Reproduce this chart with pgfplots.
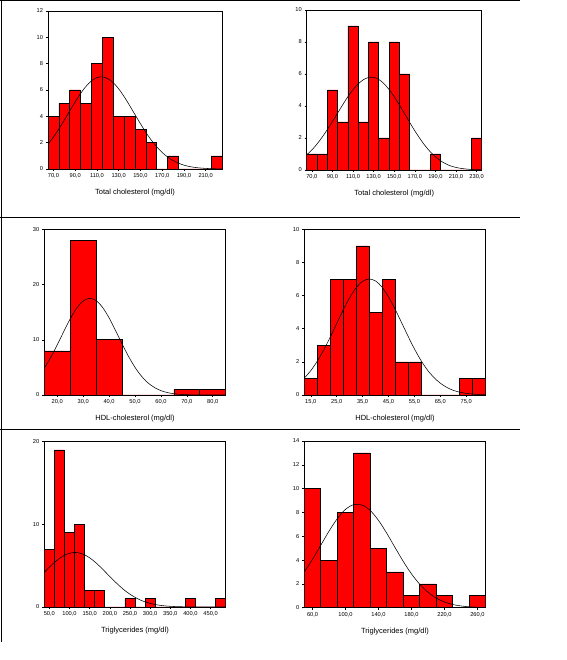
\documentclass[border=0pt]{standalone}
\usepackage{pgfplots}
\pgfplotsset{compat=1.18}
\usepackage{fontspec}
\setmainfont{Liberation Sans}
\pgfplotsset{hist/.style={
  scale only axis, anchor=south west, ymin=0, enlargelimits=false,
  tick align=outside, xtick pos=left, ytick pos=left,
  major tick length=2pt, tick style={black,line width=0.5pt},
  axis line style={line width=0.7pt},
  ticklabel style={font=\fontsize{5.7}{6.5}\selectfont},
  xticklabel style={yshift=0.8pt},
  yticklabel style={xshift=0.5pt},
  /pgf/number format/assume math mode=true,
  xlabel style={font=\fontsize{7.5}{9}\selectfont, at={(axis description cs:0.5,0)}, anchor=center, yshift=-24pt},
  clip=true},
  bars/.style={ybar interval, fill=red, draw=black, line width=0.6pt},
  curve/.style={black, line width=0.55pt, smooth, no markers}}
\begin{document}
\begin{tikzpicture}[x=1pt,y=1pt]
\useasboundingbox (0,0) rectangle (566,660);
\draw[line width=1pt] (0,659.3) -- (520,659.3);
\draw[line width=1pt] (0,442) -- (520,442);
\draw[line width=1pt] (0,230) -- (520,230);
\draw[line width=1pt] (1,660) -- (1,18);
% Panel 1
\begin{axis}[hist, at={(48pt,491pt)}, width=174pt, height=158pt,
  xmin=65, xmax=225, ymax=12, ytick={0,2,...,12},
  xtick={70,90,...,210}, xticklabels={{70,0},{90,0},{110,0},{130,0},{150,0},{170,0},{190,0},{210,0}},
  xlabel={Total cholesterol (mg/dl)}]
\addplot[bars] coordinates {(65,4) (75,5) (85,6) (95,5) (105,8) (115,10) (125,4) (135,4) (145,3) (155,2) (165,0) (175,1) (185,0) (195,0) (205,0) (215,1) (225,1)};
\addplot[curve] coordinates {(65,1.88) (70,2.42) (75,3.04) (80,3.71) (85,4.41) (90,5.10) (95,5.74) (100,6.28) (105,6.70) (110,6.94) (115,7.00) (120,6.86) (125,6.55) (130,6.09) (135,5.50) (140,4.83) (145,4.13) (150,3.44) (155,2.78) (160,2.19) (165,1.68) (170,1.25) (175,0.91) (180,0.64) (185,0.44) (190,0.29) (195,0.19) (200,0.12) (205,0.075) (210,0.045) (215,0.026) (220,0.015) (225,0.008)};
\end{axis}
% Panel 2
\begin{axis}[hist, at={(306.7pt,490pt)}, width=175pt, height=160pt,
  xmin=65, xmax=235, ymax=10, ytick={0,2,...,10},
  xtick={70,90,...,230}, xticklabels={{70,0},{90,0},{110,0},{130,0},{150,0},{170,0},{190,0},{210,0},{230,0}},
  xlabel={Total cholesterol (mg/dl)}]
\addplot[bars] coordinates {(65,1) (75,1) (85,5) (95,3) (105,9) (115,3) (125,8) (135,2) (145,8) (155,6) (165,0) (175,0) (185,1) (195,0) (205,0) (215,0) (225,2) (235,2)};
\addplot[curve] coordinates {(65,0.95) (70,1.25) (75,1.62) (80,2.05) (85,2.52) (90,3.03) (95,3.55) (100,4.08) (105,4.58) (110,5.02) (115,5.38) (120,5.64) (125,5.78) (130,5.79) (135,5.66) (140,5.40) (145,5.03) (150,4.58) (155,4.07) (160,3.53) (165,2.98) (170,2.45) (175,1.96) (180,1.52) (185,1.14) (190,0.83) (195,0.58) (200,0.39) (205,0.25) (210,0.16) (215,0.10) (220,0.06) (225,0.035) (230,0.02) (235,0.01)};
\end{axis}
% Panel 3
\begin{axis}[hist, at={(44.3pt,265pt)}, width=181.4pt, height=165.7pt,
  xmin=15, xmax=85, ymax=30, ytick={0,10,20,30},
  xtick={20,30,...,80}, xticklabels={{20,0},{30,0},{40,0},{50,0},{60,0},{70,0},{80,0}},
  xlabel={HDL-cholesterol (mg/dl)}]
\addplot[bars] coordinates {(15,8) (25,28) (35,10) (45,0) (55,0) (65,1) (75,1) (85,1)};
\addplot[curve] coordinates {(15,4.87) (17.5,6.82) (20,9.08) (22.5,11.48) (25,13.79) (27.5,15.72) (30,17.02) (32.5,17.50) (35,17.09) (37.5,15.85) (40,13.96) (42.5,11.67) (45,9.27) (47.5,6.99) (50,5.01) (52.5,3.41) (55,2.20) (57.5,1.35) (60,0.79) (62.5,0.44) (65,0.23) (67.5,0.11) (70,0.054) (75,0.01) (80,0.001) (85,0)};
\end{axis}
% Panel 4
\begin{axis}[hist, at={(304.3pt,265pt)}, width=181.4pt, height=165.7pt,
  xmin=12.5, xmax=82.5, ymax=10, ytick={0,2,...,10},
  xtick={15,25,...,75}, xticklabels={{15,0},{25,0},{35,0},{45,0},{55,0},{65,0},{75,0}},
  xlabel={HDL-cholesterol (mg/dl)}]
\addplot[bars] coordinates {(12.5,1) (17.5,3) (22.5,7) (27.5,7) (32.5,9) (37.5,5) (42.5,7) (47.5,2) (52.5,2) (57.5,0) (62.5,0) (67.5,0) (72.5,1) (77.5,1) (82.5,1)};
\addplot[curve] coordinates {(12.5,1.02) (15,1.47) (17.5,2.04) (20,2.72) (22.5,3.49) (25,4.31) (27.5,5.13) (30,5.87) (32.5,6.47) (35,6.86) (37.5,7.00) (40,6.88) (42.5,6.51) (45,5.92) (47.5,5.19) (50,4.38) (52.5,3.56) (55,2.78) (57.5,2.09) (60,1.51) (62.5,1.06) (65,0.71) (67.5,0.46) (70,0.28) (72.5,0.17) (75,0.098) (77.5,0.054) (80,0.029) (82.5,0.015)};
\end{axis}
% Panel 5
\begin{axis}[hist, at={(44.3pt,53pt)}, width=181.4pt, height=165.3pt,
  xmin=37.5, xmax=487.5, ymax=20, ytick={0,10,20},
  xtick={50,100,...,450}, xticklabels={{50,0},{100,0},{150,0},{200,0},{250,0},{300,0},{350,0},{400,0},{450,0}},
  xlabel={Triglycerides (mg/dl)}]
\addplot[bars] coordinates {(37.5,7) (62.5,19) (87.5,9) (112.5,10) (137.5,2) (162.5,2) (187.5,0) (212.5,0) (237.5,1) (262.5,0) (287.5,1) (312.5,0) (337.5,0) (362.5,0) (387.5,1) (412.5,0) (437.5,0) (462.5,1) (487.5,1)};
\addplot[curve] coordinates {(37.5,4.19) (50,4.81) (62.5,5.38) (75,5.87) (87.5,6.26) (100,6.50) (112.5,6.60) (125,6.53) (137.5,6.31) (150,5.95) (162.5,5.48) (175,4.92) (187.5,4.31) (200,3.69) (212.5,3.08) (225,2.51) (237.5,1.99) (250,1.55) (262.5,1.17) (275,0.86) (287.5,0.62) (300,0.44) (312.5,0.30) (325,0.20) (337.5,0.13) (350,0.084) (362.5,0.052) (375,0.032) (400,0.011) (425,0.003) (450,0.001) (487.5,0)};
\end{axis}
% Panel 6
\begin{axis}[hist, at={(304.3pt,52.3pt)}, width=181.4pt, height=166.7pt,
  xmin=50, xmax=270, ymax=14, ytick={0,2,...,14},
  xtick={60,100,...,260}, xticklabels={{60,0},{100,0},{140,0},{180,0},{220,0},{260,0}},
  xlabel={Triglycerides (mg/dl)}]
\addplot[bars] coordinates {(50,10) (70,4) (90,8) (110,13) (130,5) (150,3) (170,1) (190,2) (210,1) (230,0) (250,1) (270,1)};
\addplot[curve] coordinates {(50,3.00) (60,4.07) (70,5.25) (80,6.43) (90,7.48) (100,8.26) (110,8.66) (120,8.62) (130,8.16) (140,7.33) (150,6.25) (160,5.06) (170,3.89) (180,2.84) (190,1.97) (200,1.30) (210,0.81) (220,0.48) (230,0.27) (240,0.146) (250,0.074) (260,0.036) (270,0.017)};
\end{axis}
\end{tikzpicture}
\end{document}
